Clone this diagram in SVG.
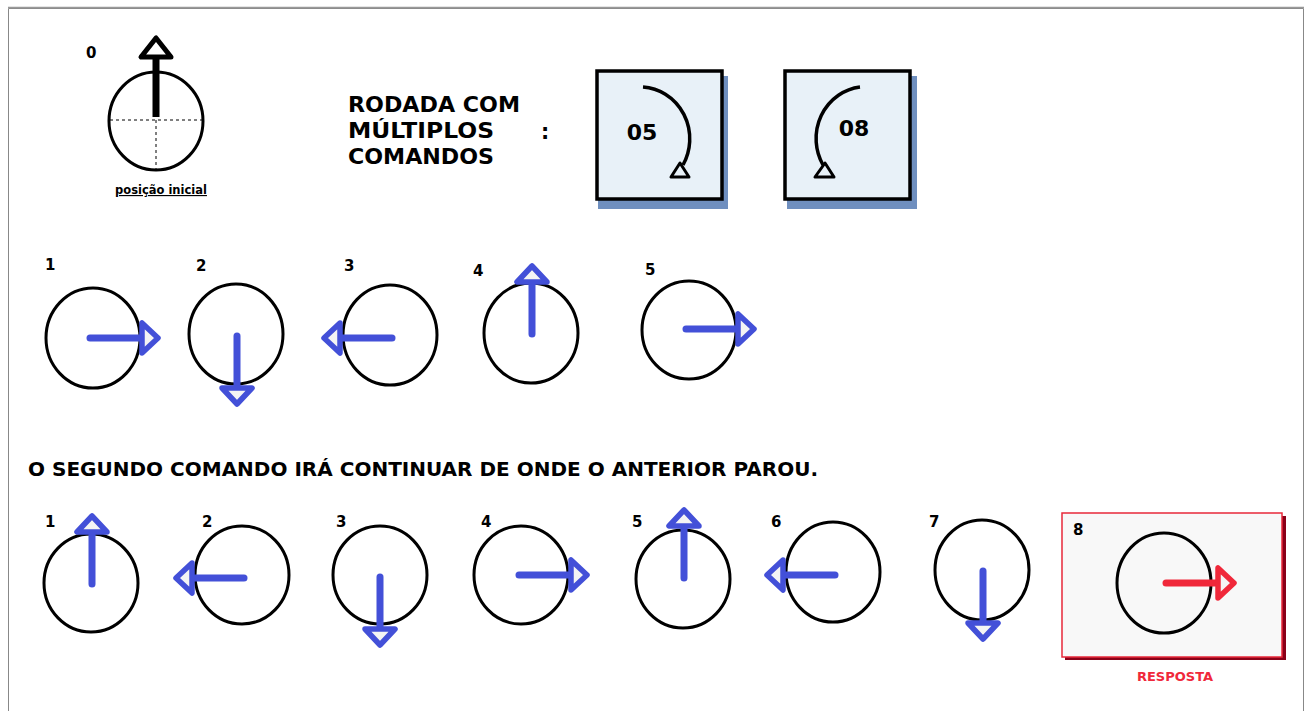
<svg xmlns="http://www.w3.org/2000/svg" xmlns:xlink="http://www.w3.org/1999/xlink" width="1309" height="711" viewBox="0 0 1309 711">
<style>
  .t { font-family: "DejaVu Sans", Verdana, sans-serif; font-weight: bold; fill: #000; }
  .num { font-size: 15px; }
  .circ { fill: none; stroke: #000; stroke-width: 3; }
  .blue { color: #4350d8; }
  .red { color: #f0283a; }
</style>
<defs>
  <g id="arrow" fill="none" stroke="currentColor" stroke-linecap="round" stroke-linejoin="round">
    <line x1="0" y1="0" x2="52" y2="0" stroke-width="7"/>
    <polygon points="52,-15 52,15 68,0" stroke-width="5.5" fill="#f4f4f4"/>
  </g>
</defs>
<rect x="0" y="0" width="1309" height="711" fill="#fff"/>
<path d="M8.5 711 V8.5 H1303.5 V711" fill="none" stroke="#888" stroke-width="1"/>
<line x1="8" y1="7.5" x2="1304" y2="7.5" stroke="#999" stroke-width="1.5"/>

<g id="node-0">
  <text class="t num" x="86" y="58">0</text>
  <ellipse class="circ" cx="156" cy="121" rx="47" ry="49"/>
  <line x1="110" y1="120" x2="203" y2="120" stroke="#000" stroke-width="1" stroke-dasharray="3,3"/>
  <line x1="156" y1="120" x2="156" y2="170" stroke="#000" stroke-width="1" stroke-dasharray="3,3"/>
  <line x1="156" y1="117" x2="156" y2="58" stroke="#000" stroke-width="7"/>
  <polygon points="141,57 171,57 156,38" fill="#fff" stroke="#000" stroke-width="5" stroke-linejoin="round"/>
  <text class="t" x="161" y="194" font-size="11.5" text-anchor="middle" text-decoration="underline">posição inicial</text>
</g>

<g id="title">
  <text class="t" x="348" y="112" font-size="20.5" textLength="172" lengthAdjust="spacingAndGlyphs">RODADA COM</text>
  <text class="t" x="348" y="138" font-size="20.5" textLength="146" lengthAdjust="spacingAndGlyphs">MÚLTIPLOS</text>
  <text class="t" x="348" y="164" font-size="20.5" textLength="146" lengthAdjust="spacingAndGlyphs">COMANDOS</text>
  <text class="t" x="541" y="139" font-size="20.5">:</text>
</g>

<g id="cmd-05">
  <rect x="598" y="76" width="130" height="133" fill="#6f8fbf"/>
  <rect x="597" y="71" width="125" height="128" fill="#e8f1f8" stroke="#000" stroke-width="3.5"/>
  <path d="M643 87 A50 52 0 0 1 683 165" fill="none" stroke="#000" stroke-width="3.5"/>
  <polygon points="680,163 671,177 689,177" fill="#e8f1f8" stroke="#000" stroke-width="3" stroke-linejoin="round"/>
  <text class="t" x="642" y="140" font-size="22" text-anchor="middle">05</text>
</g>

<g id="cmd-08">
  <rect x="787" y="76" width="130" height="133" fill="#6f8fbf"/>
  <rect x="785" y="71" width="125" height="128" fill="#e8f1f8" stroke="#000" stroke-width="3.5"/>
  <path d="M860 87 A50 52 0 0 0 823 165" fill="none" stroke="#000" stroke-width="3.5"/>
  <polygon points="825,163 815,177 834,177" fill="#e8f1f8" stroke="#000" stroke-width="3" stroke-linejoin="round"/>
  <text class="t" x="854" y="136" font-size="22" text-anchor="middle">08</text>
</g>

<g id="row1-1">
  <text class="t num" x="45" y="270">1</text>
  <ellipse class="circ" cx="93" cy="338" rx="47" ry="50"/>
  <use xlink:href="#arrow" class="blue" transform="translate(90,338)"/>
</g>
<g id="row1-2">
  <text class="t num" x="196" y="271">2</text>
  <ellipse class="circ" cx="236" cy="334" rx="47" ry="50"/>
  <use xlink:href="#arrow" class="blue" transform="translate(237,336) rotate(90)"/>
</g>
<g id="row1-3">
  <text class="t num" x="344" y="271">3</text>
  <ellipse class="circ" cx="390" cy="335" rx="47" ry="50"/>
  <use xlink:href="#arrow" class="blue" transform="translate(392,338) rotate(180)"/>
</g>
<g id="row1-4">
  <text class="t num" x="473" y="276">4</text>
  <ellipse class="circ" cx="531" cy="333" rx="47" ry="50"/>
  <use xlink:href="#arrow" class="blue" transform="translate(532,334) rotate(-90)"/>
</g>
<g id="row1-5">
  <text class="t num" x="645" y="275">5</text>
  <ellipse class="circ" cx="689" cy="330" rx="47" ry="49"/>
  <use xlink:href="#arrow" class="blue" transform="translate(686,329)"/>
</g>

<text id="note" class="t" x="28" y="476" font-size="19" textLength="790" lengthAdjust="spacingAndGlyphs">O SEGUNDO COMANDO IRÁ CONTINUAR DE ONDE O ANTERIOR PAROU.</text>

<g id="row2-1">
  <text class="t num" x="45" y="527">1</text>
  <ellipse class="circ" cx="91" cy="583" rx="47" ry="49"/>
  <use xlink:href="#arrow" class="blue" transform="translate(92,584) rotate(-90)"/>
</g>
<g id="row2-2">
  <text class="t num" x="202" y="527">2</text>
  <ellipse class="circ" cx="242" cy="575" rx="47" ry="49"/>
  <use xlink:href="#arrow" class="blue" transform="translate(244,578) rotate(180)"/>
</g>
<g id="row2-3">
  <text class="t num" x="336" y="527">3</text>
  <ellipse class="circ" cx="380" cy="575" rx="47" ry="49"/>
  <use xlink:href="#arrow" class="blue" transform="translate(380,577) rotate(90)"/>
</g>
<g id="row2-4">
  <text class="t num" x="481" y="527">4</text>
  <ellipse class="circ" cx="521" cy="575" rx="47" ry="49"/>
  <use xlink:href="#arrow" class="blue" transform="translate(519,575)"/>
</g>
<g id="row2-5">
  <text class="t num" x="632" y="527">5</text>
  <ellipse class="circ" cx="683" cy="579" rx="47" ry="49"/>
  <use xlink:href="#arrow" class="blue" transform="translate(684,578) rotate(-90)"/>
</g>
<g id="row2-6">
  <text class="t num" x="771" y="527">6</text>
  <ellipse class="circ" cx="833" cy="572" rx="47" ry="50"/>
  <use xlink:href="#arrow" class="blue" transform="translate(835,575) rotate(180)"/>
</g>
<g id="row2-7">
  <text class="t num" x="929" y="527">7</text>
  <ellipse class="circ" cx="982" cy="570" rx="47" ry="50"/>
  <use xlink:href="#arrow" class="blue" transform="translate(983,571) rotate(90)"/>
</g>

<g id="answer-8">
  <rect x="1065" y="516" width="221" height="144" fill="#8a0018"/>
  <rect x="1062" y="513" width="220" height="144" fill="#f8f8f8" stroke="#e8283a" stroke-width="1.5"/>
  <text class="t num" x="1073" y="535">8</text>
  <ellipse class="circ" cx="1164" cy="583" rx="47" ry="50"/>
  <use xlink:href="#arrow" class="red" transform="translate(1166,583)"/>
  <text class="t" x="1175" y="681" font-size="13" text-anchor="middle" style="fill:#f0283a">RESPOSTA</text>
</g>
</svg>
